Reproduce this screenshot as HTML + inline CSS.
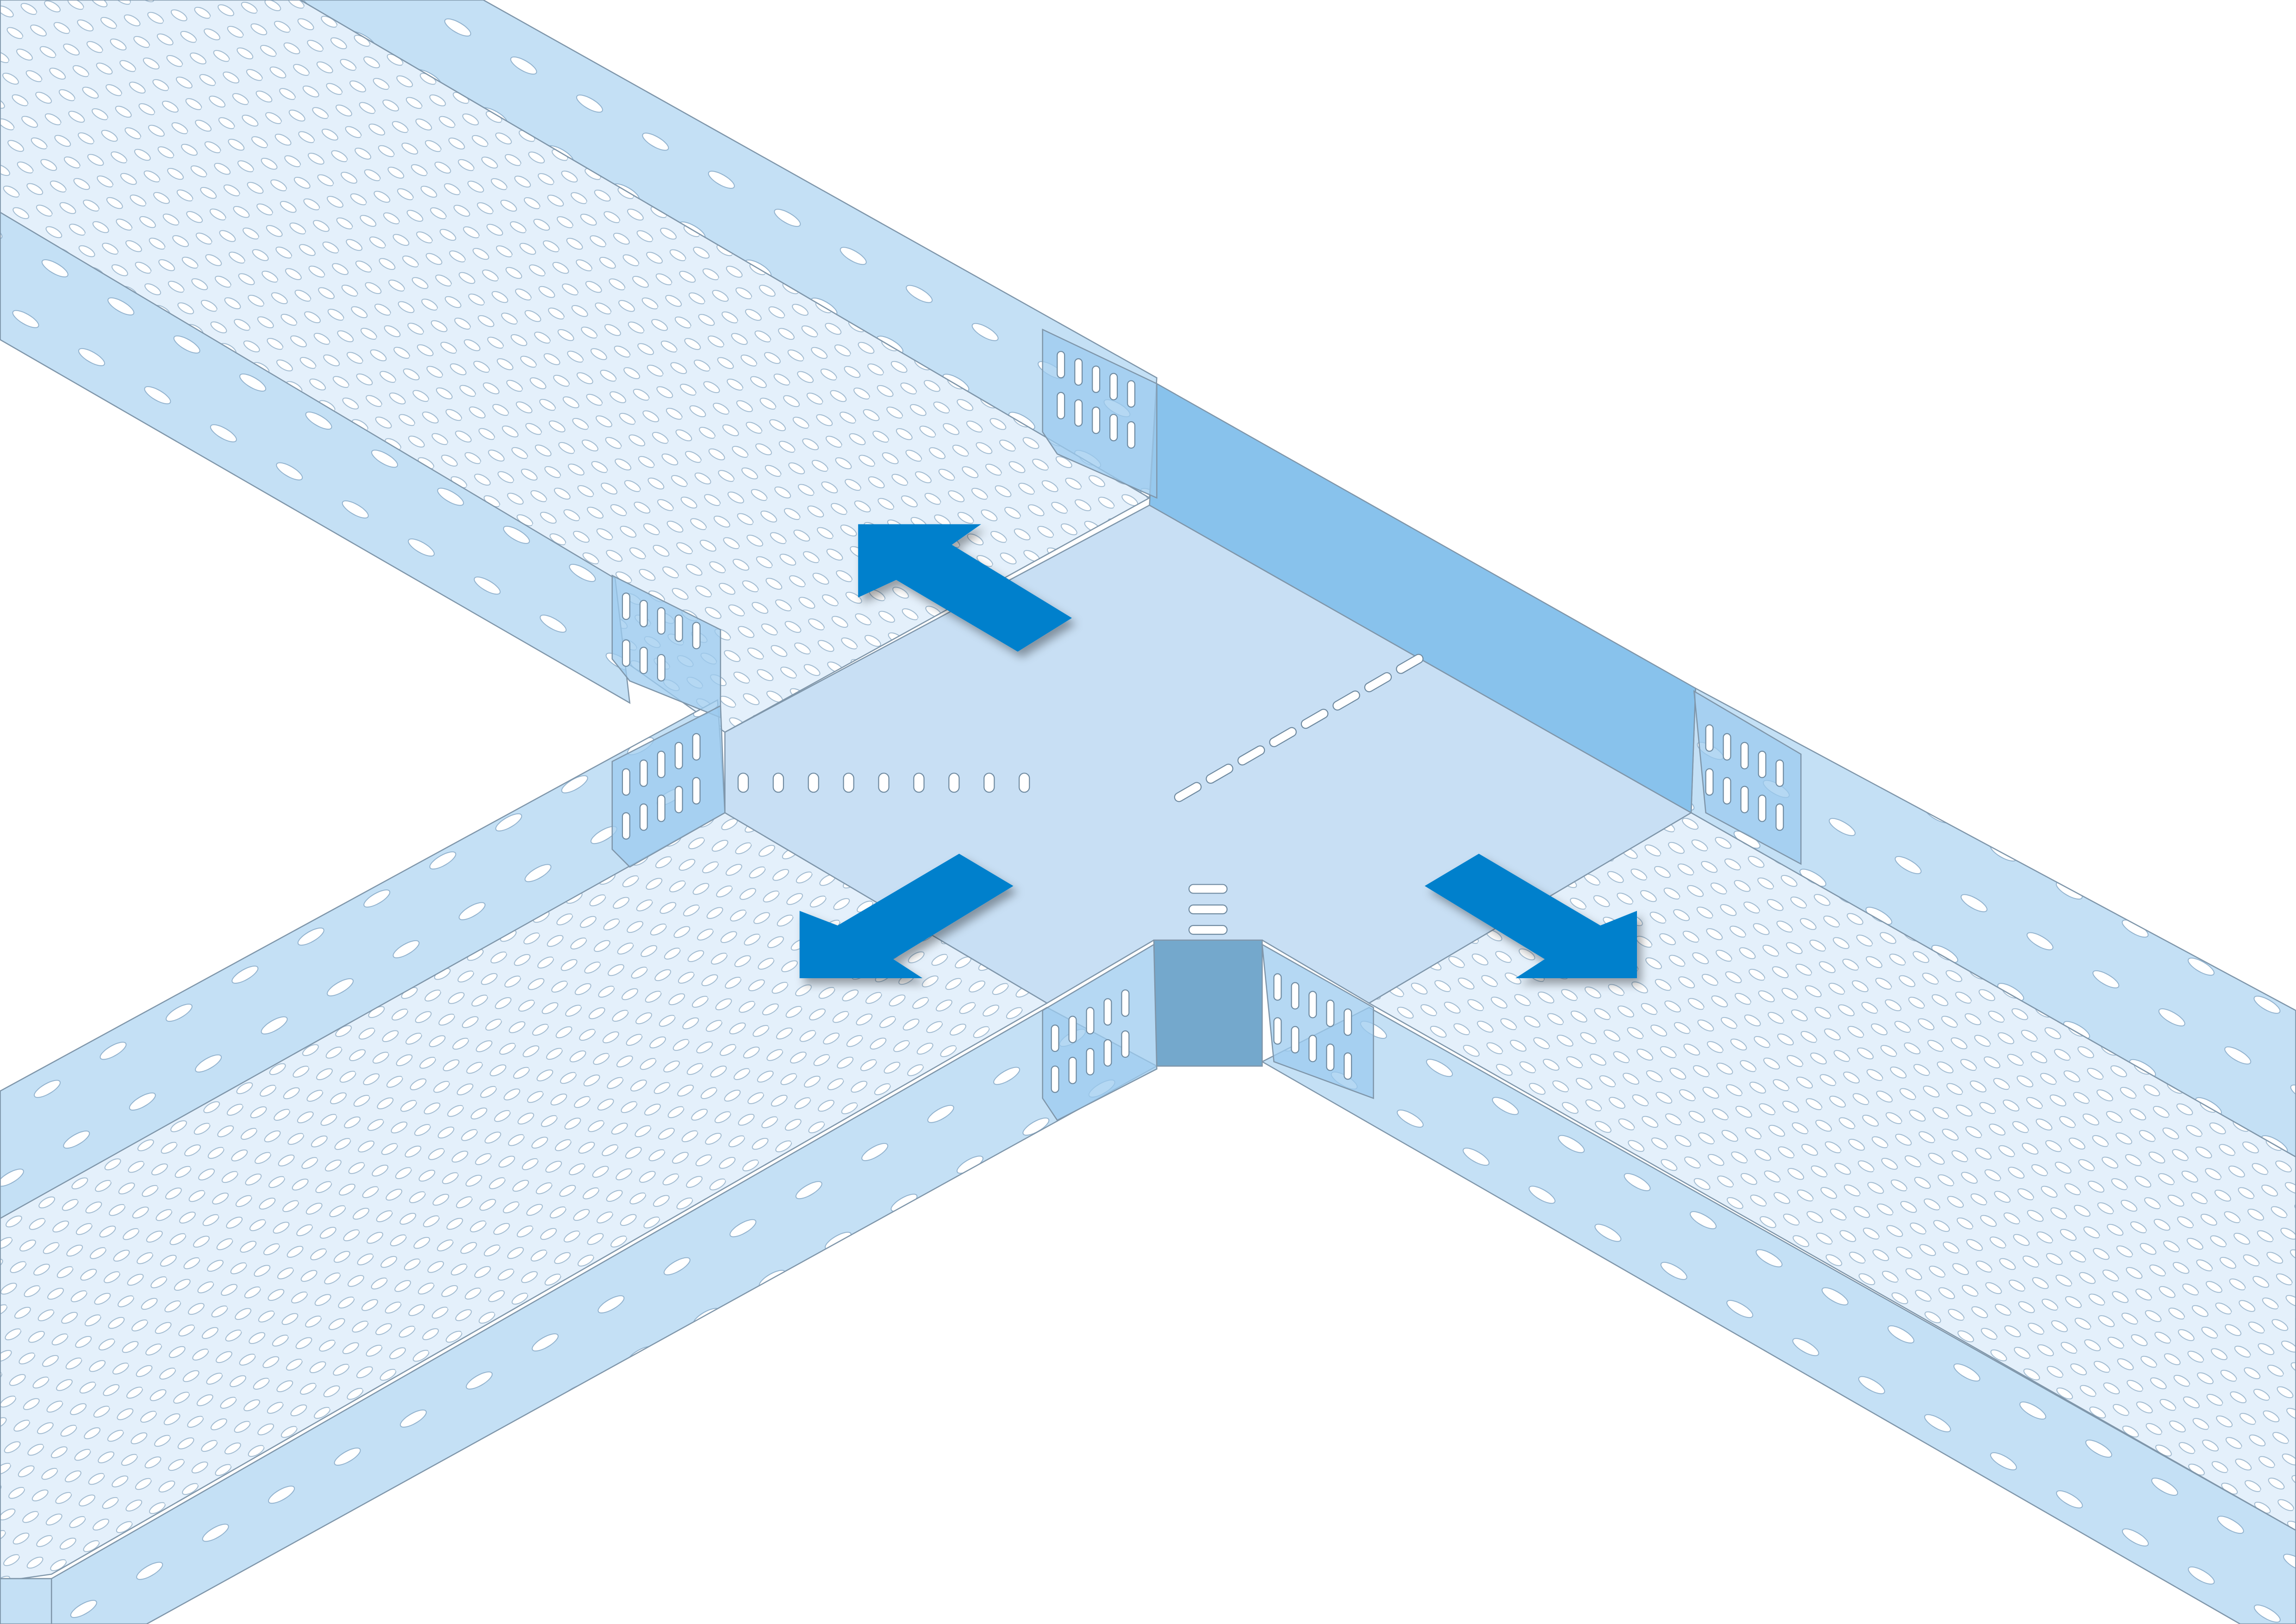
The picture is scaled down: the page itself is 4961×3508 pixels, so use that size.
<!DOCTYPE html>
<html><head><meta charset="utf-8"><style>html,body{margin:0;padding:0;background:#fff}svg{display:block}</style></head>
<body>
<svg width="4961" height="3508" viewBox="0 0 1568 1109" xmlns="http://www.w3.org/2000/svg">
<defs>
<pattern id="pA" width="26" height="19" patternUnits="userSpaceOnUse" patternTransform="rotate(30)">
<rect width="26" height="19" fill="#e4f0fb"/>
<ellipse cx="7" cy="5" rx="6" ry="2.6" fill="#fff" stroke="#9fb9cf" stroke-width="0.6"/>
<ellipse cx="20" cy="14.5" rx="6" ry="2.6" fill="#fff" stroke="#9fb9cf" stroke-width="0.6"/>
</pattern>
<pattern id="pB" width="26" height="19" patternUnits="userSpaceOnUse" patternTransform="rotate(-30)">
<rect width="26" height="19" fill="#e4f0fb"/>
<ellipse cx="7" cy="5" rx="6" ry="2.6" fill="#fff" stroke="#9fb9cf" stroke-width="0.6"/>
<ellipse cx="20" cy="14.5" rx="6" ry="2.6" fill="#fff" stroke="#9fb9cf" stroke-width="0.6"/>
</pattern>
<pattern id="wA" width="52" height="40" patternUnits="userSpaceOnUse" patternTransform="rotate(30)">
<rect width="52" height="40" fill="#c4e0f5"/>
<ellipse cx="20" cy="20" rx="10" ry="3.5" fill="#fff" stroke="#8fb0cc" stroke-width="0.6"/>
</pattern>
<pattern id="wB" width="52" height="40" patternUnits="userSpaceOnUse" patternTransform="rotate(-30)">
<rect width="52" height="40" fill="#c4e0f5"/>
<ellipse cx="20" cy="20" rx="10" ry="3.5" fill="#fff" stroke="#8fb0cc" stroke-width="0.6"/>
</pattern>
<filter id="sh" x="-20%" y="-20%" width="140%" height="140%"><feDropShadow dx="3" dy="4" stdDeviation="3" flood-color="#000" flood-opacity="0.35"/></filter>
</defs>
<g stroke="#7f96aa" stroke-width="0.8">
<!-- upper-left tray -->
<polygon points="0,0 205,0 785,340 495,500 0,150" fill="url(#pA)"/>
<polygon points="205,0 330,0 790,258 785,340" fill="url(#wA)"/>
<polygon points="0,145 420,395 430,480 0,232" fill="url(#wA)"/>
<!-- right tray -->
<polygon points="1155,555 1568,790 1568,1045 935,685" fill="url(#pA)"/>
<polygon points="1158,470 1568,690 1568,790 1155,555" fill="url(#wA)"/>
<polygon points="935,688 1568,1045 1568,1109 1530,1109 862,725" fill="url(#wA)"/>
<!-- bottom-left tray -->
<polygon points="495,555 715,685 35,1075 0,1080 0,830" fill="url(#pB)"/>
<polygon points="0,745 490,478 495,555 0,832" fill="url(#wB)"/>
<polygon points="715,688 790,728 100,1109 35,1109 35,1078" fill="url(#wB)"/>
<polygon points="0,1078 35,1078 35,1109 0,1109" fill="#c4e0f5"/>
<!-- tee -->
<polygon points="495,500 785,345 1155,555 935,685 862,642 788,642 715,685 495,555" fill="#c8dff4"/>
<polygon points="790,262 1158,470 1155,555 785,345" fill="#88c2ec"/>
<polygon points="788,642 862,642 862,728 790,728" fill="#74a8cc"/>
<!-- splice plates -->
<g fill="#9ccbef" fill-opacity="0.75">
<polygon points="712,225 790,262 790,340 722,310 712,295"/>
<polygon points="418,393 492,430 492,490 430,465 418,450"/>
<polygon points="418,520 492,482 495,555 430,592 418,580"/>
<polygon points="1157,472 1230,515 1230,590 1165,555"/>
<polygon points="712,690 788,645 790,730 722,765 712,750"/>
<polygon points="862,645 938,688 938,750 870,725"/>
</g>
</g>
<!-- plate slots -->
<g fill="#fff" stroke="#6f8aa0" stroke-width="0.7">
<g transform="translate(722,240)"><rect x="0" y="0" width="5" height="18" rx="2.5"/><rect x="12" y="5" width="5" height="18" rx="2.5"/><rect x="24" y="10" width="5" height="18" rx="2.5"/><rect x="36" y="15" width="5" height="18" rx="2.5"/><rect x="48" y="20" width="5" height="18" rx="2.5"/><rect x="0" y="28" width="5" height="18" rx="2.5"/><rect x="12" y="33" width="5" height="18" rx="2.5"/><rect x="24" y="38" width="5" height="18" rx="2.5"/><rect x="36" y="43" width="5" height="18" rx="2.5"/><rect x="48" y="48" width="5" height="18" rx="2.5"/></g>
<g transform="translate(425,405)"><rect x="0" y="0" width="5" height="18" rx="2.5"/><rect x="12" y="5" width="5" height="18" rx="2.5"/><rect x="24" y="10" width="5" height="18" rx="2.5"/><rect x="36" y="15" width="5" height="18" rx="2.5"/><rect x="48" y="20" width="5" height="18" rx="2.5"/><rect x="0" y="32" width="5" height="18" rx="2.5"/><rect x="12" y="37" width="5" height="18" rx="2.5"/><rect x="24" y="42" width="5" height="18" rx="2.5"/></g>
<g transform="translate(425,525)"><rect x="0" y="0" width="5" height="18" rx="2.5"/><rect x="12" y="-6" width="5" height="18" rx="2.5"/><rect x="24" y="-12" width="5" height="18" rx="2.5"/><rect x="36" y="-18" width="5" height="18" rx="2.5"/><rect x="48" y="-24" width="5" height="18" rx="2.5"/><rect x="0" y="30" width="5" height="18" rx="2.5"/><rect x="12" y="24" width="5" height="18" rx="2.5"/><rect x="24" y="18" width="5" height="18" rx="2.5"/><rect x="36" y="12" width="5" height="18" rx="2.5"/><rect x="48" y="6" width="5" height="18" rx="2.5"/></g>
<g transform="translate(1165,495)"><rect x="0" y="0" width="5" height="18" rx="2.5"/><rect x="12" y="6" width="5" height="18" rx="2.5"/><rect x="24" y="12" width="5" height="18" rx="2.5"/><rect x="36" y="18" width="5" height="18" rx="2.5"/><rect x="48" y="24" width="5" height="18" rx="2.5"/><rect x="0" y="30" width="5" height="18" rx="2.5"/><rect x="12" y="36" width="5" height="18" rx="2.5"/><rect x="24" y="42" width="5" height="18" rx="2.5"/><rect x="36" y="48" width="5" height="18" rx="2.5"/><rect x="48" y="54" width="5" height="18" rx="2.5"/></g>
<g transform="translate(718,700)"><rect x="0" y="0" width="5" height="18" rx="2.5"/><rect x="12" y="-6" width="5" height="18" rx="2.5"/><rect x="24" y="-12" width="5" height="18" rx="2.5"/><rect x="36" y="-18" width="5" height="18" rx="2.5"/><rect x="48" y="-24" width="5" height="18" rx="2.5"/><rect x="0" y="28" width="5" height="18" rx="2.5"/><rect x="12" y="22" width="5" height="18" rx="2.5"/><rect x="24" y="16" width="5" height="18" rx="2.5"/><rect x="36" y="10" width="5" height="18" rx="2.5"/><rect x="48" y="4" width="5" height="18" rx="2.5"/></g>
<g transform="translate(870,665)"><rect x="0" y="0" width="5" height="18" rx="2.5"/><rect x="12" y="6" width="5" height="18" rx="2.5"/><rect x="24" y="12" width="5" height="18" rx="2.5"/><rect x="36" y="18" width="5" height="18" rx="2.5"/><rect x="48" y="24" width="5" height="18" rx="2.5"/><rect x="0" y="30" width="5" height="18" rx="2.5"/><rect x="12" y="36" width="5" height="18" rx="2.5"/><rect x="24" y="42" width="5" height="18" rx="2.5"/><rect x="36" y="48" width="5" height="18" rx="2.5"/><rect x="48" y="54" width="5" height="18" rx="2.5"/></g>
<!-- tee floor slots -->
<rect x="504" y="528" width="7" height="13" rx="3.5"/><rect x="528" y="528" width="7" height="13" rx="3.5"/><rect x="552" y="528" width="7" height="13" rx="3.5"/><rect x="576" y="528" width="7" height="13" rx="3.5"/><rect x="600" y="528" width="7" height="13" rx="3.5"/><rect x="624" y="528" width="7" height="13" rx="3.5"/><rect x="648" y="528" width="7" height="13" rx="3.5"/><rect x="672" y="528" width="7" height="13" rx="3.5"/><rect x="696" y="528" width="7" height="13" rx="3.5"/>
<g transform="rotate(-30 880 500)"><rect x="790" y="498" width="20" height="6" rx="3"/><rect x="815" y="498" width="20" height="6" rx="3"/><rect x="840" y="498" width="20" height="6" rx="3"/><rect x="865" y="498" width="20" height="6" rx="3"/><rect x="890" y="498" width="20" height="6" rx="3"/><rect x="915" y="498" width="20" height="6" rx="3"/><rect x="940" y="498" width="20" height="6" rx="3"/><rect x="965" y="498" width="20" height="6" rx="3"/></g>
<rect x="812" y="604" width="26" height="6" rx="3"/><rect x="812" y="618" width="26" height="6" rx="3"/><rect x="812" y="632" width="26" height="6" rx="3"/>
</g>
<!-- arrows -->
<g fill="#0080cc" filter="url(#sh)">
<polygon points="586,358 670,358 650,372 732,422 695,445 612,396 586,408"/>
<polygon points="546,622 546,668 630,668 610,655 692,605 655,583 572,632"/>
<polygon points="1118,622 1118,668 1035,668 1055,655 973,605 1010,583 1093,632"/>
</g>
</svg>
</body></html>
